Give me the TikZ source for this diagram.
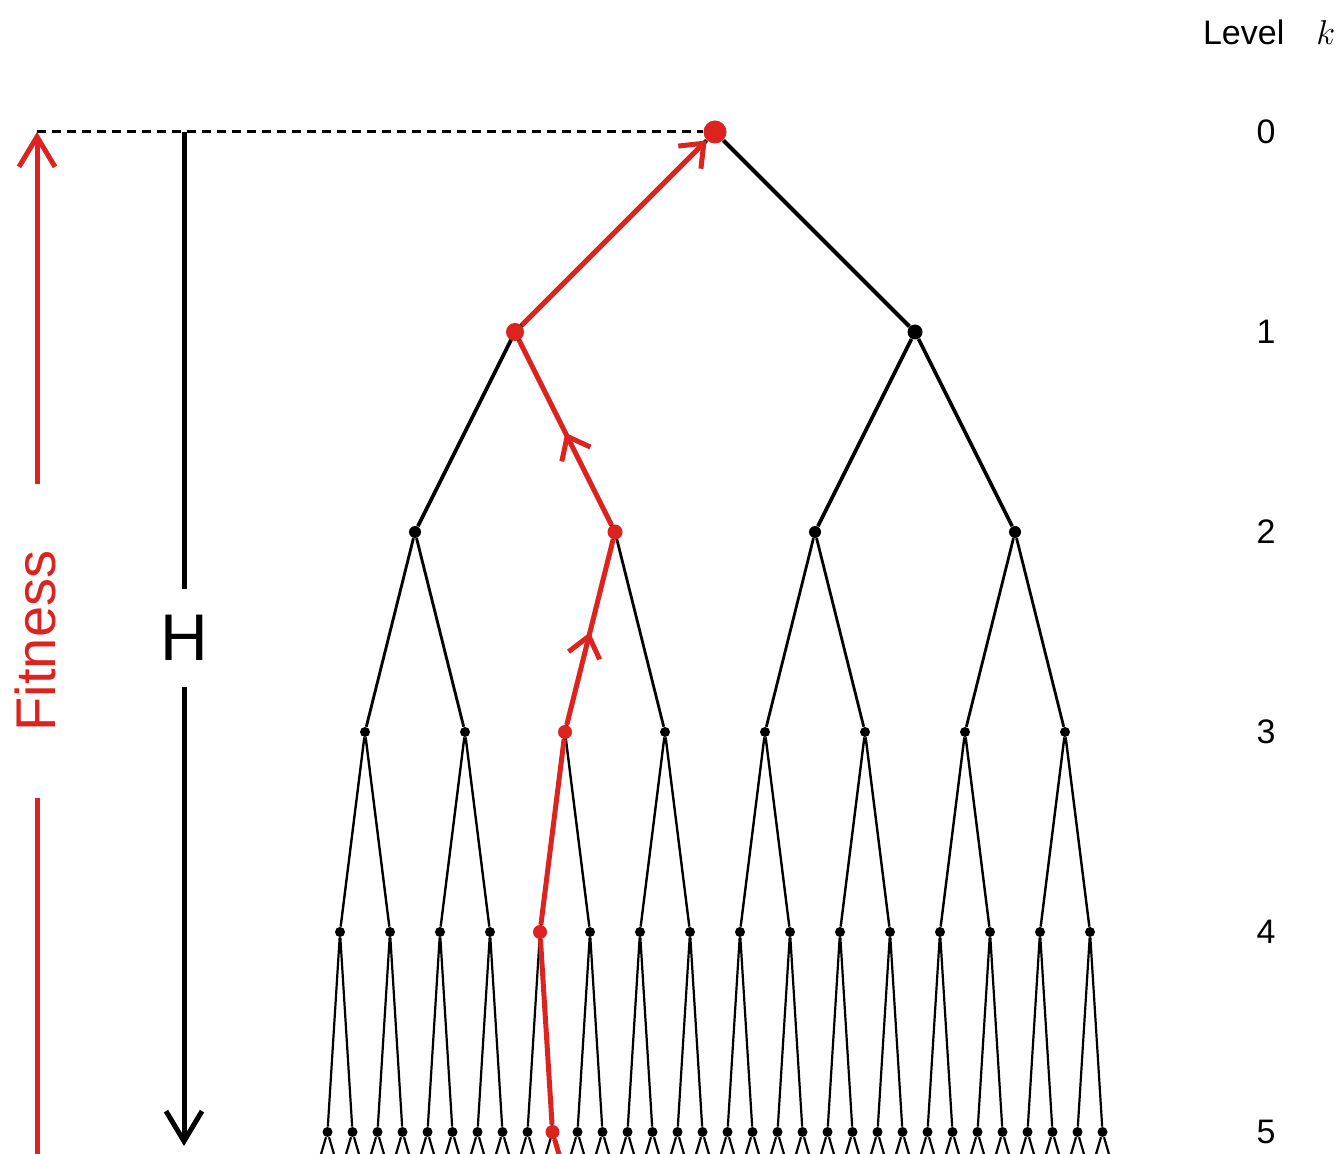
\documentclass[tikz,border=0pt]{standalone}
\usepackage{fontspec}
\setmainfont{Liberation Sans}
\usepackage{tikz}
\usetikzlibrary{arrows.meta,decorations.markings}
\definecolor{fitred}{RGB}{221,35,31}

\begin{document}
\begin{tikzpicture}[x=0.5pt,y=-0.5pt,
		vertex/.style={circle,fill,minimum size=#1,inner sep=0},
		redline/.style={fitred,line width=2.5pt},
		midbarb/.style={postaction={decorate},decoration={markings,mark=at position 0.5 with {\arrow{Straight Barb[length=10pt,width=16pt]}}}},
		lvltext/.style={font=\fontsize{17}{20}\selectfont}]
			\useasboundingbox (0,0) rectangle (1344,1154);
			\clip (0,0) rectangle (1344,1154);
			\coordinate (ftip) at (37,132);
			\coordinate (fend) at (37,1160);
			\coordinate (htop) at (184,132);
			\coordinate (hbot) at (184,1146);
			\node[vertex=11.5pt,fitred] (n0-0) at (715,132) {};
			\draw[line width=1.5pt,dash pattern=on 4.5pt off 3pt] (ftip) -- (n0-0);
			\foreach \k/\p/\d/\lw in {1/0/7.5pt/2pt,2/1/6pt/1.8pt,3/2/5pt/1.4pt,4/3/5pt/1.2pt,5/4/5pt/1.1pt}{
				\pgfmathtruncatemacro\n{2^\k-1}
				\foreach \i in {0,...,\n}{
					\pgfmathsetmacro\xx{315+400/2^\k+\i*(800/2^\k)}
					\pgfmathtruncatemacro\j{floor(\i/2)}
					\node[vertex=\d] (n\k-\i) at (\xx,{132+200*\k}) {};
					\draw[line width=\lw] (n\p-\j) -- (n\k-\i);
				}
			}
			\foreach \i in {0,...,31}{
				\draw[line width=1.1pt] (n5-\i) -- ++(-7,24);
				\draw[line width=1.1pt] (n5-\i) -- ++(7,24);
			}
			\node[vertex=9pt,fitred] (r1) at (n1-0) {};
			\node[vertex=7.5pt,fitred] (r2) at (n2-1) {};
			\node[vertex=7pt,fitred] (r3) at (n3-2) {};
			\node[vertex=7pt,fitred] (r4) at (n4-4) {};
			\node[vertex=7pt,fitred] (r5) at (n5-9) {};
			\draw[redline,-{Straight Barb[length=10pt,width=16pt]}] (r1) -- (n0-0);
			\draw[redline,midbarb] (r2) -- (r1);
			\draw[redline,midbarb] (r3) -- (r2);
			\draw[redline] (r4) -- (r3);
			\draw[redline] (r5) -- (r4);
			\draw[redline] (r5) -- ++(7,24);
			\node[fitred,rotate=90,font=\fontsize{28}{30}\selectfont,inner xsep=33pt,inner ysep=0pt] (fit) at (35,641) {Fitness};
			\draw[fitred,line width=2.5pt,-{Straight Barb[length=15pt,width=18pt]}] (ftip |- fit.east) -- (ftip);
			\draw[fitred,line width=2.5pt] (ftip |- fit.west) -- (fend);
			\node[font=\fontsize{33}{36}\selectfont,inner xsep=0pt,inner ysep=13pt] (H) at (184,638) {H};
			\draw[line width=2.5pt] (H.north) -- (htop);
			\draw[line width=2.5pt,-{Straight Barb[length=15pt,width=18pt]}] (H.south) -- (hbot);
			\foreach \k in {0,...,5}
				\node[lvltext] (lvl\k) at (1266,{132+200*\k}) {\k};
			\node[lvltext,anchor=base west] (head) at (1196,45) {Level\hspace{16pt}$k$};
		\end{tikzpicture}
\end{document}
